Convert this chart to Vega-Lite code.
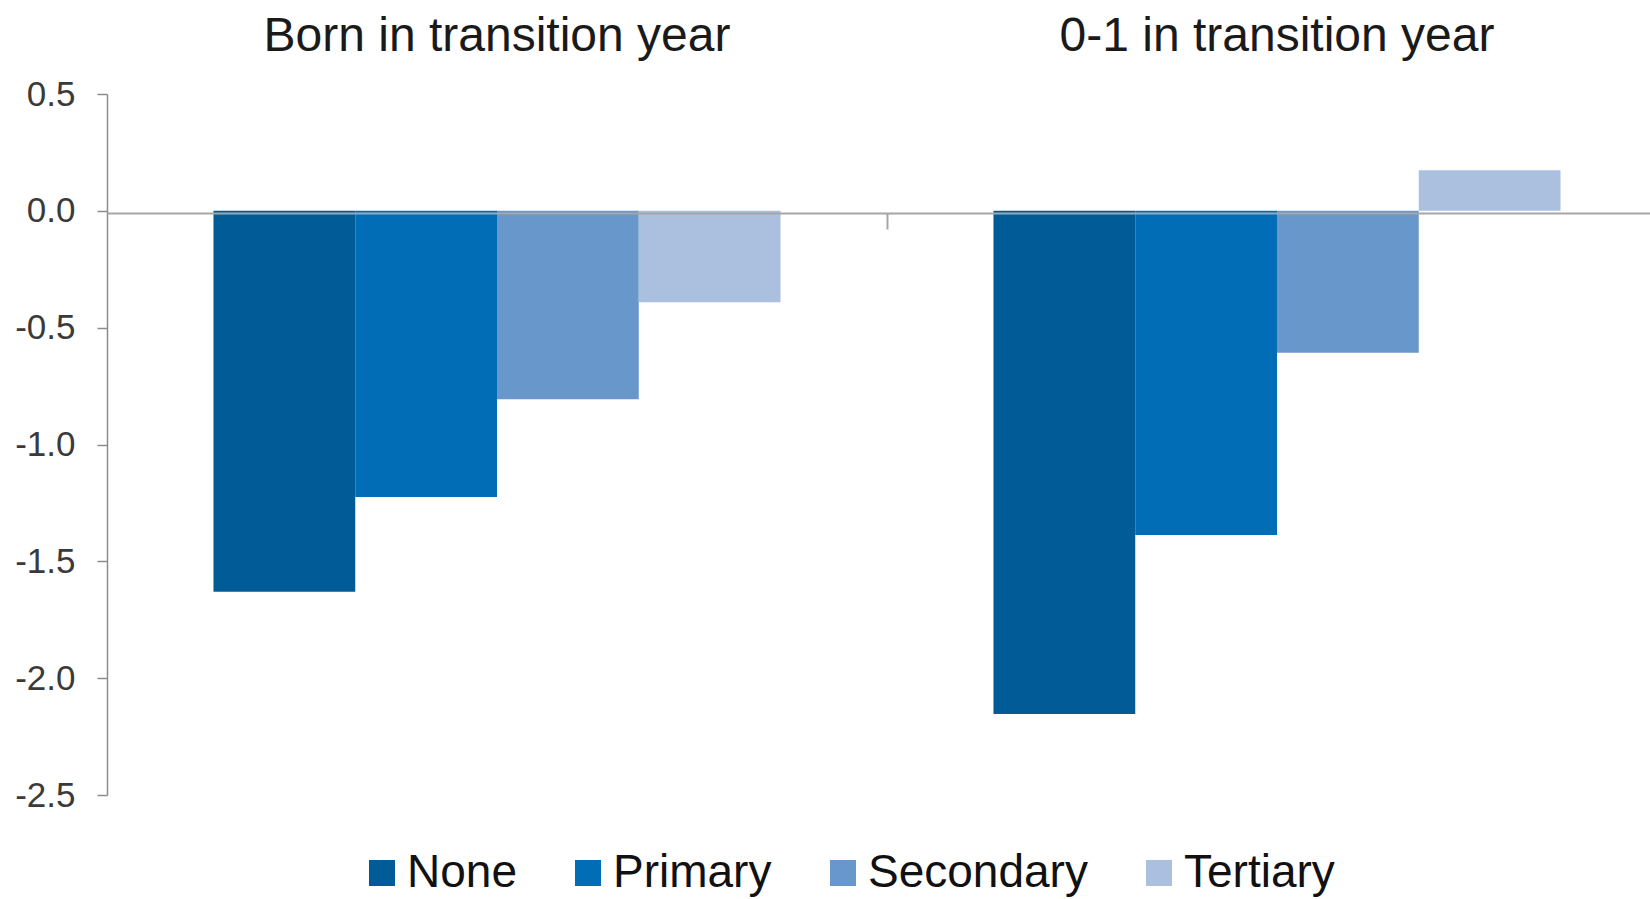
{
  "$schema": "https://vega.github.io/schema/vega-lite/v6.json",
  "width": 1560,
  "height": 701,
  "autosize": {"type": "none"},
  "padding": {"left": 107, "top": 94, "right": 0, "bottom": 104},
  "background": "white",
  "config": {"view": {"stroke": null}, "font": "Liberation Sans"},
  "data": {"values": [
    {"group": "Born in transition year", "edu": "None", "value": -1.63},
    {"group": "Born in transition year", "edu": "Primary", "value": -1.225},
    {"group": "Born in transition year", "edu": "Secondary", "value": -0.806},
    {"group": "Born in transition year", "edu": "Tertiary", "value": -0.391},
    {"group": "0-1 in transition year", "edu": "None", "value": -2.153},
    {"group": "0-1 in transition year", "edu": "Primary", "value": -1.387},
    {"group": "0-1 in transition year", "edu": "Secondary", "value": -0.607},
    {"group": "0-1 in transition year", "edu": "Tertiary", "value": 0.174}
  ]},
  "resolve": {"axis": {"x": "independent"}},
  "encoding": {
    "y": {
      "field": "value",
      "type": "quantitative",
      "scale": {"domain": [-2.5, 0.5], "nice": false, "zero": false},
      "axis": {
        "title": null,
        "values": [0.5, 0, -0.5, -1, -1.5, -2, -2.5],
        "labelExpr": "replace(format(datum.value, '.1f'), '\u2212', '-')",
        "grid": false,
        "domainColor": "#8c8c8c",
        "domainWidth": 1.5,
        "tickColor": "#8c8c8c",
        "tickWidth": 1.5,
        "tickSize": 10,
        "labelFontSize": 35,
        "labelColor": "#3a3a3a",
        "labelPadding": 22
      }
    }
  },
  "layer": [
    {
      "mark": {"type": "bar", "opacity": 0},
      "encoding": {
        "x": {
          "field": "group",
          "type": "nominal",
          "sort": ["Born in transition year", "0-1 in transition year"],
          "scale": {"paddingInner": 0.273, "paddingOuter": 0.1365},
          "axis": {
            "orient": "top",
            "title": null,
            "domain": false,
            "ticks": false,
            "tickSize": 0,
            "labelAngle": 0,
            "labelLimit": 0,
            "labelFontSize": 48,
            "labelColor": "#1a1a1a",
            "labelBaseline": "alphabetic",
            "labelPadding": 44
          }
        }
      }
    },
    {
      "mark": {"type": "bar"},
      "encoding": {
        "x": {
          "field": "group",
          "type": "nominal",
          "sort": ["Born in transition year", "0-1 in transition year"],
          "scale": {"paddingInner": 0.273, "paddingOuter": 0.1365},
          "axis": {
            "orient": "bottom",
            "offset": -582,
            "title": null,
            "labels": false,
            "domain": true,
            "domainColor": "#a6a6a6",
            "domainWidth": 2,
            "ticks": true,
            "tickOffset": 390,
            "tickSize": 16,
            "tickColor": "#a6a6a6",
            "tickWidth": 2,
            "zindex": 1
          }
        },
        "xOffset": {
          "field": "edu",
          "type": "nominal",
          "sort": ["None", "Primary", "Secondary", "Tertiary"],
          "scale": {"paddingInner": 0, "paddingOuter": 0}
        },
        "color": {
          "field": "edu",
          "type": "nominal",
          "sort": ["None", "Primary", "Secondary", "Tertiary"],
          "scale": {
            "domain": ["None", "Primary", "Secondary", "Tertiary"],
            "range": ["#005b96", "#006db6", "#6897cb", "#abbfdf"]
          },
          "legend": {
            "title": null,
            "orient": "none",
            "direction": "horizontal",
            "columns": 4,
            "legendX": 252,
            "legendY": 756,
            "padding": 0,
            "symbolType": "square",
            "symbolSize": 676,
            "symbolStrokeWidth": 0,
            "labelFontSize": 46,
            "labelLimit": 0,
            "labelColor": "#111111",
            "labelOffset": 2,
            "columnPadding": 48
          }
        }
      }
    }
  ]
}
